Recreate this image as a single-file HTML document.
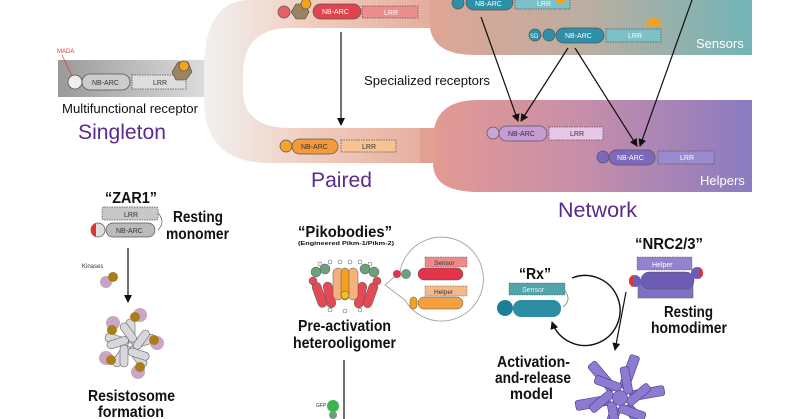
<!DOCTYPE html>
<html><head><meta charset="utf-8"><style>
html,body{margin:0;padding:0;background:#fff;width:800px;height:419px;overflow:hidden;}
svg{display:block;font-family:"Liberation Sans",sans-serif;}
.b{font-weight:bold;fill:#111;font-size:16px;}
.p{fill:#5b2a8c;font-size:21px;}
</style></head><body>
<svg width="800" height="419" viewBox="0 0 800 419" xmlns="http://www.w3.org/2000/svg">
<defs>
<linearGradient id="gGray" x1="0" x2="1"><stop offset="0" stop-color="#999"/><stop offset="1" stop-color="#ececec"/></linearGradient>
<linearGradient id="gU" x1="205" x2="470" gradientUnits="userSpaceOnUse"><stop offset="0" stop-color="#f0f0f0"/><stop offset="0.4" stop-color="#f1cdbf"/><stop offset="1" stop-color="#e2a291"/></linearGradient>
<linearGradient id="gSens" x1="430" x2="752" gradientUnits="userSpaceOnUse"><stop offset="0" stop-color="#e0a595"/><stop offset="0.5" stop-color="#b9aea2"/><stop offset="1" stop-color="#72b4b6"/></linearGradient>
<linearGradient id="gHelp" x1="430" x2="752" gradientUnits="userSpaceOnUse"><stop offset="0" stop-color="#e39a92"/><stop offset="0.45" stop-color="#c98fa8"/><stop offset="1" stop-color="#8a7bc2"/></linearGradient>
<marker id="ar" markerWidth="8" markerHeight="8" refX="7" refY="4" orient="auto" markerUnits="userSpaceOnUse"><path d="M0,0 L8,4 L0,8 z" fill="#111"/></marker>
</defs>

<!-- bands -->
<rect x="58" y="60" width="180" height="37" fill="url(#gGray)"/>
<path d="M440,0 L250,0 Q204,0 204,70 L204,100 Q204,163 270,163 L440,163 Z" fill="url(#gU)"/>
<path d="M243,75 Q243,28 290,28 L446,28 L446,128 L290,128 Q243,128 243,90 Z" fill="#fff"/>
<path d="M430,0 L752,0 L752,55 L475,55 Q434,55 430,28 Z" fill="url(#gSens)"/>
<path d="M478,100 L752,100 L752,192 L478,192 Q433,192 433,163 L433,140 Q433,100 478,100 Z" fill="url(#gHelp)"/>
<rect x="420" y="128" width="15" height="35" fill="#e2a091"/>

<text x="696" y="48" fill="#fff" font-size="13">Sensors</text>
<text x="700" y="185" fill="#fff" font-size="13">Helpers</text>
<text x="364" y="85" font-size="13" fill="#111" textLength="126" lengthAdjust="spacingAndGlyphs">Specialized receptors</text>
<text x="62" y="113" font-size="13" fill="#111" textLength="136" lengthAdjust="spacingAndGlyphs">Multifunctional receptor</text>
<text x="78" y="139" class="p" textLength="88" lengthAdjust="spacingAndGlyphs">Singleton</text>
<text x="311" y="187" class="p" textLength="61" lengthAdjust="spacingAndGlyphs">Paired</text>
<text x="558" y="217" class="p" textLength="79" lengthAdjust="spacingAndGlyphs">Network</text>

<!-- singleton receptor -->
<text x="57" y="53" font-size="6" fill="#e33">MADA</text>
<line x1="62" y1="55" x2="72" y2="76" stroke="#e33" stroke-width="0.7"/>
<circle cx="75" cy="82" r="7" fill="#eee" stroke="#555" stroke-width="0.8"/>
<rect x="82" y="74" width="48" height="16" rx="8" fill="#ccc" stroke="#555" stroke-width="0.8"/>
<text x="92" y="85" font-size="7" fill="#333">NB-ARC</text>
<rect x="132" y="75" width="54" height="14" fill="#ddd" stroke="#555" stroke-width="0.8" stroke-dasharray="1.5 1"/>
<text x="153" y="85" font-size="7" fill="#333">LRR</text>
<polygon points="172,72 178,62 188,62 192,72 186,80 176,80" fill="#9c8463" stroke="#444" stroke-width="0.6"/>
<circle cx="184" cy="66" r="5" fill="#f2a21c" stroke="#444" stroke-width="0.6"/>

<!-- paired top -->
<circle cx="284" cy="12" r="6" fill="#e8606a" stroke="#555" stroke-width="0.7"/>
<polygon points="291,12 296,4 305,4 309,12 305,19 296,19" fill="#9c8463" stroke="#444" stroke-width="0.6"/>
<circle cx="306" cy="4" r="5" fill="#f2a21c" stroke="#444" stroke-width="0.6"/>
<rect x="313" y="4" width="48" height="15" rx="7.5" fill="#e2444f" stroke="#555" stroke-width="0.7"/>
<text x="322" y="14" font-size="7" fill="#fff">NB-ARC</text>
<rect x="362" y="6" width="56" height="12" fill="#ee8d8d" stroke="#555" stroke-width="0.7" stroke-dasharray="1.5 1"/>
<text x="384" y="15" font-size="7" fill="#fff">LRR</text>

<!-- paired bottom -->
<circle cx="286" cy="146" r="6" fill="#f2a52a" stroke="#555" stroke-width="0.7"/>
<rect x="292" y="139" width="46" height="15" rx="7.5" fill="#f39a3a" stroke="#555" stroke-width="0.7"/>
<text x="301" y="149" font-size="7" fill="#333">NB-ARC</text>
<rect x="341" y="140" width="55" height="12" fill="#f8c394" stroke="#555" stroke-width="0.7" stroke-dasharray="1.5 1"/>
<text x="362" y="149" font-size="7" fill="#333">LRR</text>

<!-- sensors -->
<circle cx="458" cy="3" r="6" fill="#2d8fa8" stroke="#555" stroke-width="0.7"/>
<rect x="466" y="-5" width="47" height="15" rx="7.5" fill="#2d8fa8" stroke="#555" stroke-width="0.7"/>
<text x="475" y="6" font-size="7" fill="#fff">NB-ARC</text>
<rect x="515" y="-3" width="55" height="12" fill="#7cc0c8" stroke="#555" stroke-width="0.7" stroke-dasharray="1.5 1"/>
<text x="537" y="6" font-size="7" fill="#fff">LRR</text>
<circle cx="561" cy="-1" r="5" fill="#f2a21c"/>
<circle cx="535" cy="35" r="6" fill="#2d8fa8" stroke="#555" stroke-width="0.7"/>
<text x="530" y="38" font-size="6" fill="#fff">SD</text>
<circle cx="549" cy="35" r="6" fill="#2d8fa8" stroke="#555" stroke-width="0.7"/>
<rect x="556" y="28" width="48" height="15" rx="7.5" fill="#2d8fa8" stroke="#555" stroke-width="0.7"/>
<text x="565" y="38" font-size="7" fill="#fff">NB-ARC</text>
<rect x="606" y="29" width="55" height="13" fill="#7cc0c8" stroke="#555" stroke-width="0.7" stroke-dasharray="1.5 1"/>
<text x="628" y="38" font-size="7" fill="#fff">LRR</text>
<path d="M646,28 Q646,18 654,18 Q662,18 662,28 Q658,24 654,27 Q650,24 646,28 Z" fill="#f2a21c"/>

<!-- helpers -->
<circle cx="493" cy="133" r="6" fill="#c9a6d8" stroke="#555" stroke-width="0.7"/>
<rect x="499" y="126" width="48" height="15" rx="7.5" fill="#c69bd6" stroke="#555" stroke-width="0.7"/>
<text x="508" y="136" font-size="7" fill="#333">NB-ARC</text>
<rect x="549" y="127" width="54" height="13" fill="#e6c7e8" stroke="#555" stroke-width="0.7" stroke-dasharray="1.5 1"/>
<text x="570" y="136" font-size="7" fill="#333">LRR</text>
<circle cx="603" cy="157" r="6" fill="#7d68bd" stroke="#555" stroke-width="0.7"/>
<rect x="609" y="150" width="46" height="15" rx="7.5" fill="#7d68bd" stroke="#555" stroke-width="0.7"/>
<text x="617" y="160" font-size="7" fill="#fff">NB-ARC</text>
<rect x="658" y="151" width="56" height="13" fill="#9a8bd0" stroke="#555" stroke-width="0.7" stroke-dasharray="1.5 1"/>
<text x="680" y="160" font-size="7" fill="#fff">LRR</text>

<!-- arrows top -->
<g stroke="#111" stroke-width="1.2" fill="none" marker-end="url(#ar)">
<line x1="341" y1="32" x2="341" y2="125"/>
<line x1="481" y1="17" x2="518" y2="121"/>
<line x1="568" y1="48" x2="521" y2="121"/>
<line x1="575" y1="48" x2="637" y2="146"/>
<line x1="692" y1="0" x2="640" y2="146"/>
</g>

<!-- ZAR1 -->
<text x="105" y="203" class="b" textLength="52" lengthAdjust="spacingAndGlyphs">“ZAR1”</text>
<rect x="102" y="207" width="56" height="13" rx="2" fill="#c8c8c8" stroke="#555" stroke-width="0.7" stroke-dasharray="1.5 1"/>
<text x="124" y="217" font-size="7" fill="#333">LRR</text>
<path d="M158,213 Q166,222 158,230" stroke="#555" fill="none" stroke-width="0.7"/>
<circle cx="98" cy="230" r="7" fill="#ddd" stroke="#555" stroke-width="0.7"/>
<path d="M91,230 A7,7 0 0 0 96,237 L96,223 A7,7 0 0 0 91,230Z" fill="#d33"/>
<rect x="106" y="223" width="49" height="14" rx="7" fill="#bbb" stroke="#555" stroke-width="0.7"/>
<text x="116" y="233" font-size="7" fill="#333">NB-ARC</text>
<text x="173" y="222" class="b" textLength="50" lengthAdjust="spacingAndGlyphs">Resting</text>
<text x="166" y="239" class="b" textLength="63" lengthAdjust="spacingAndGlyphs">monomer</text>
<line x1="128" y1="248" x2="128" y2="302" stroke="#111" stroke-width="1.2" marker-end="url(#ar)"/>
<text x="82" y="268" font-size="6" fill="#333">Kinases</text>
<circle cx="106" cy="282" r="6" fill="#c3a6c6"/><circle cx="113" cy="277" r="5" fill="#a97d1a"/>

<!-- resistosome -->
<g transform="translate(130,345)">
<g fill="#d8d8dc" stroke="#666" stroke-width="0.6">
<rect x="-4" y="-26" width="9" height="24" rx="4"/>
<rect x="-4" y="-26" width="9" height="24" rx="4" transform="rotate(72)"/>
<rect x="-4" y="-26" width="9" height="24" rx="4" transform="rotate(144)"/>
<rect x="-4" y="-26" width="9" height="24" rx="4" transform="rotate(216)"/>
<rect x="-4" y="-26" width="9" height="24" rx="4" transform="rotate(288)"/>
<rect x="2" y="-22" width="8" height="22" rx="4" transform="rotate(36)"/>
<rect x="2" y="-22" width="8" height="22" rx="4" transform="rotate(108)"/>
<rect x="2" y="-22" width="8" height="22" rx="4" transform="rotate(180)"/>
<rect x="2" y="-22" width="8" height="22" rx="4" transform="rotate(252)"/>
<rect x="2" y="-22" width="8" height="22" rx="4" transform="rotate(324)"/>
</g>
<g><circle cx="-17" cy="-22" r="7" fill="#c9a6c4"/><circle cx="-18" cy="-15" r="5" fill="#a97d1a"/>
<circle cx="10" cy="-30" r="7" fill="#c9a6c4"/><circle cx="5" cy="-28" r="5" fill="#a97d1a"/>
<circle cx="27" cy="-2" r="7" fill="#c9a6c4"/><circle cx="24" cy="-5" r="5" fill="#a97d1a"/>
<circle cx="8" cy="27" r="7" fill="#c9a6c4"/><circle cx="10" cy="22" r="5" fill="#a97d1a"/>
<circle cx="-24" cy="13" r="7" fill="#c9a6c4"/><circle cx="-19" cy="15" r="5" fill="#a97d1a"/></g>
</g>
<text x="88" y="401" class="b" textLength="87" lengthAdjust="spacingAndGlyphs">Resistosome</text>
<text x="98" y="417" class="b" textLength="66" lengthAdjust="spacingAndGlyphs">formation</text>

<!-- Pikobodies -->
<text x="298" y="237" class="b" textLength="94" lengthAdjust="spacingAndGlyphs">“Pikobodies”</text>
<text x="298" y="245" font-size="5.5" font-weight="bold" fill="#111" textLength="96" lengthAdjust="spacingAndGlyphs">(Engineered Pikm-1/Pikm-2)</text>
<g stroke="#555" stroke-width="0.5">
<g fill="#e44a55">
<rect x="315" y="282" width="9" height="26" rx="4.5" transform="rotate(-20 319 295)"/>
<rect x="325" y="282" width="9" height="26" rx="4.5" transform="rotate(-12 329 295)"/>
<rect x="356" y="282" width="9" height="26" rx="4.5" transform="rotate(12 360 295)"/>
<rect x="366" y="282" width="9" height="26" rx="4.5" transform="rotate(20 370 295)"/>
</g>
<g fill="#f6b07a"><rect x="333" y="268" width="10" height="32" rx="5"/><rect x="348" y="268" width="10" height="32" rx="5"/></g>
<rect x="341" y="268" width="8" height="32" rx="4" fill="#f4a020"/>
<g fill="#6aa07a"><circle cx="316" cy="272" r="5"/><circle cx="325" cy="269" r="5"/><circle cx="365" cy="269" r="5"/><circle cx="374" cy="272" r="5"/></g>
<g fill="#e44a55"><circle cx="313" cy="281" r="4"/><circle cx="377" cy="281" r="4"/></g>
<circle cx="345" cy="295" r="4" fill="#f4c020"/>
</g>
<g fill="#fff" stroke="#555" stroke-width="0.5"><circle cx="320" cy="264" r="2"/><circle cx="330" cy="262" r="2"/><circle cx="340" cy="262" r="2"/><circle cx="350" cy="262" r="2"/><circle cx="360" cy="262" r="2"/><circle cx="370" cy="264" r="2"/><circle cx="330" cy="310" r="2"/><circle cx="345" cy="311" r="2"/><circle cx="360" cy="310" r="2"/></g>
<path d="M400,272 A42,42 0 1 1 405,300 L385,285 Z" fill="#fff" stroke="#999" stroke-width="0.8"/>
<rect x="425" y="257" width="42" height="10" fill="#ee8a8a" stroke="#555" stroke-width="0.5" stroke-dasharray="1.5 1"/>
<text x="434" y="265" font-size="6.5" fill="#333">Sensor</text>
<rect x="418" y="268" width="45" height="12" rx="6" fill="#e3344a" stroke="#555" stroke-width="0.5"/>
<circle cx="406" cy="274" r="5" fill="#6aa07a"/><circle cx="397" cy="274" r="4" fill="#e3344a"/>
<rect x="425" y="286" width="42" height="10" fill="#f5b88a" stroke="#555" stroke-width="0.5" stroke-dasharray="1.5 1"/>
<text x="434" y="294" font-size="6.5" fill="#333">Helper</text>
<rect x="418" y="297" width="45" height="12" rx="6" fill="#f5a040" stroke="#555" stroke-width="0.5"/>
<rect x="410" y="297" width="7" height="12" rx="3.5" fill="#f4a020" stroke="#555" stroke-width="0.5"/>
<text x="298" y="331" class="b" textLength="93" lengthAdjust="spacingAndGlyphs">Pre-activation</text>
<text x="293" y="348" class="b" textLength="103" lengthAdjust="spacingAndGlyphs">heterooligomer</text>
<line x1="344" y1="360" x2="344" y2="419" stroke="#111" stroke-width="1.2"/>
<text x="316" y="407" font-size="5" fill="#333">GFP</text>
<circle cx="333" cy="406" r="6" fill="#3cb44a"/><circle cx="333" cy="415" r="4" fill="#6aa07a"/>

<!-- Rx -->
<text x="519" y="279" class="b" textLength="32" lengthAdjust="spacingAndGlyphs">“Rx”</text>
<rect x="509" y="283" width="56" height="12" fill="#4fa5aa" stroke="#555" stroke-width="0.5" stroke-dasharray="1.5 1"/>
<text x="522" y="292" font-size="7" fill="#e8f4f4">Sensor</text>
<path d="M565,291 Q572,300 563,307" stroke="#555" fill="none" stroke-width="0.6"/>
<circle cx="505" cy="308" r="8" fill="#1d7f95"/>
<rect x="513" y="300" width="48" height="17" rx="8" fill="#2b8ea3"/>
<path d="M572,278 A35,35 0 1 1 552,322" stroke="#111" stroke-width="1.4" fill="none" marker-end="url(#ar)"/>

<!-- NRC2/3 -->
<text x="635" y="249" class="b" textLength="68" lengthAdjust="spacingAndGlyphs">“NRC2/3”</text>
<rect x="638" y="282" width="55" height="16" fill="#8070c4" stroke="#555" stroke-width="0.5"/>
<rect x="637" y="257" width="55" height="13" fill="#9383cf" stroke="#555" stroke-width="0.5" stroke-dasharray="1.5 1"/>
<text x="652" y="267" font-size="7" fill="#fff">Helper</text>
<rect x="641" y="272" width="53" height="17" rx="8" fill="#6d5cb5" stroke="#555" stroke-width="0.5"/>
<circle cx="635" cy="281" r="6" fill="#6d5cb5"/><path d="M629,281 A6,6 0 0 0 633,287 L633,275 A6,6 0 0 0 629,281Z" fill="#d33"/>
<circle cx="697" cy="273" r="6" fill="#6d5cb5"/><path d="M703,273 A6,6 0 0 1 699,279 L699,267 A6,6 0 0 1 703,273Z" fill="#d33"/>
<line x1="626" y1="292" x2="615" y2="350" stroke="#111" stroke-width="1.2" marker-end="url(#ar)"/>
<text x="664" y="317" class="b" textLength="49" lengthAdjust="spacingAndGlyphs">Resting</text>
<text x="651" y="333" class="b" textLength="76" lengthAdjust="spacingAndGlyphs">homodimer</text>
<text x="497" y="367" class="b" textLength="73" lengthAdjust="spacingAndGlyphs">Activation-</text>
<text x="495" y="383" class="b" textLength="76" lengthAdjust="spacingAndGlyphs">and-release</text>
<text x="510" y="399" class="b" textLength="43" lengthAdjust="spacingAndGlyphs">model</text>

<g transform="translate(620,398) scale(1.25)" fill="#8c7bd0" stroke="#4a3c8a" stroke-width="0.5">
<rect x="-4" y="-36" width="8" height="28" rx="2" transform="rotate(20)"/>
<rect x="-4" y="-36" width="8" height="28" rx="2" transform="rotate(80)"/>
<rect x="-4" y="-36" width="8" height="28" rx="2" transform="rotate(140)"/>
<rect x="-4" y="-36" width="8" height="28" rx="2" transform="rotate(200)"/>
<rect x="-4" y="-36" width="8" height="28" rx="2" transform="rotate(260)"/>
<rect x="-4" y="-36" width="8" height="28" rx="2" transform="rotate(320)"/>
<rect x="4" y="-24" width="7" height="22" rx="2" transform="rotate(50)"/>
<rect x="4" y="-24" width="7" height="22" rx="2" transform="rotate(110)"/>
<rect x="4" y="-24" width="7" height="22" rx="2" transform="rotate(170)"/>
<rect x="4" y="-24" width="7" height="22" rx="2" transform="rotate(230)"/>
<rect x="4" y="-24" width="7" height="22" rx="2" transform="rotate(290)"/>
<rect x="4" y="-24" width="7" height="22" rx="2" transform="rotate(350)"/>
<circle cx="0" cy="0" r="6"/>
</g>
</svg>
</body></html>
